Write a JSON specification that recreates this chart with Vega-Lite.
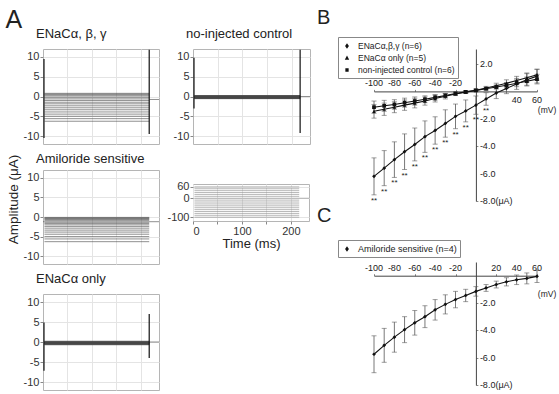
{
"$schema":"https://vega.github.io/schema/vega-lite/v6.json",
"padding":{"left":5,"top":7,"right":0,"bottom":0},
"background":"white",
"config":{
 "font":"Liberation Sans",
 "view":{"stroke":null},
 "title":{"fontWeight":"normal","fontSize":13,"color":"#222"},
 "axis":{"labelColor":"#333","labelFontSize":11,"tickColor":"#888","domainColor":"#444","gridColor":"#e4e4e4","titleFontWeight":"normal","titleColor":"#222","labelFont":"Liberation Sans"},
 "text":{"font":"Liberation Sans","color":"#222"},
 "legend":{"labelFont":"Liberation Sans"}
},
"datasets":{
 "traces":[
  {"p":"a1","k":"s","t0":3,"t1":217,"y0":-6.25},{"p":"a1","k":"s","t0":3,"t1":217,"y0":-5.6},{"p":"a1","k":"s","t0":3,"t1":217,"y0":-5.0},{"p":"a1","k":"s","t0":3,"t1":217,"y0":-4.45},{"p":"a1","k":"s","t0":3,"t1":217,"y0":-3.9},{"p":"a1","k":"s","t0":3,"t1":217,"y0":-3.35},{"p":"a1","k":"s","t0":3,"t1":217,"y0":-2.85},{"p":"a1","k":"s","t0":3,"t1":217,"y0":-2.35},{"p":"a1","k":"s","t0":3,"t1":217,"y0":-1.85},{"p":"a1","k":"s","t0":3,"t1":217,"y0":-1.45},{"p":"a1","k":"s","t0":3,"t1":217,"y0":-1.0},{"p":"a1","k":"s","t0":3,"t1":217,"y0":-0.6},{"p":"a1","k":"s","t0":3,"t1":217,"y0":-0.2},{"p":"a1","k":"s","t0":3,"t1":217,"y0":0.15},{"p":"a1","k":"s","t0":3,"t1":217,"y0":0.4},{"p":"a1","k":"s","t0":3,"t1":217,"y0":0.6},{"p":"a1","k":"s","t0":3,"t1":217,"y0":0.8},
  {"p":"a1","k":"s","t0":217,"t1":237,"y0":-0.75},
  {"p":"a1","k":"k","t0":2,"y0":-10.5,"y1":9.5},{"p":"a1","k":"k","t0":217,"y0":-9.5,"y1":11.8},
  {"p":"a2","k":"s","t0":3,"t1":217,"y0":-0.55},{"p":"a2","k":"s","t0":3,"t1":217,"y0":-0.5},{"p":"a2","k":"s","t0":3,"t1":217,"y0":-0.45},{"p":"a2","k":"s","t0":3,"t1":217,"y0":-0.4},{"p":"a2","k":"s","t0":3,"t1":217,"y0":-0.35},{"p":"a2","k":"s","t0":3,"t1":217,"y0":-0.3},{"p":"a2","k":"s","t0":3,"t1":217,"y0":-0.25},{"p":"a2","k":"s","t0":3,"t1":217,"y0":-0.2},{"p":"a2","k":"s","t0":3,"t1":217,"y0":-0.15},{"p":"a2","k":"s","t0":3,"t1":217,"y0":-0.1},{"p":"a2","k":"s","t0":3,"t1":217,"y0":-0.05},{"p":"a2","k":"s","t0":3,"t1":217,"y0":0},{"p":"a2","k":"s","t0":3,"t1":217,"y0":0.05},{"p":"a2","k":"s","t0":3,"t1":217,"y0":0.1},{"p":"a2","k":"s","t0":3,"t1":217,"y0":0.15},{"p":"a2","k":"s","t0":3,"t1":217,"y0":0.2},{"p":"a2","k":"s","t0":3,"t1":217,"y0":0.25},
  {"p":"a2","k":"s","t0":217,"t1":237,"y0":0},
  {"p":"a2","k":"k","t0":2,"y0":-3,"y1":9.8},{"p":"a2","k":"k","t0":217,"y0":-9.2,"y1":11.8},
  {"p":"a3","k":"s","t0":3,"t1":217,"y0":-6.3},{"p":"a3","k":"s","t0":3,"t1":217,"y0":-5.6},{"p":"a3","k":"s","t0":3,"t1":217,"y0":-5.0},{"p":"a3","k":"s","t0":3,"t1":217,"y0":-4.4},{"p":"a3","k":"s","t0":3,"t1":217,"y0":-3.85},{"p":"a3","k":"s","t0":3,"t1":217,"y0":-3.35},{"p":"a3","k":"s","t0":3,"t1":217,"y0":-2.85},{"p":"a3","k":"s","t0":3,"t1":217,"y0":-2.4},{"p":"a3","k":"s","t0":3,"t1":217,"y0":-2.0},{"p":"a3","k":"s","t0":3,"t1":217,"y0":-1.65},{"p":"a3","k":"s","t0":3,"t1":217,"y0":-1.35},{"p":"a3","k":"s","t0":3,"t1":217,"y0":-1.05},{"p":"a3","k":"s","t0":3,"t1":217,"y0":-0.8},{"p":"a3","k":"s","t0":3,"t1":217,"y0":-0.6},{"p":"a3","k":"s","t0":3,"t1":217,"y0":-0.4},{"p":"a3","k":"s","t0":3,"t1":217,"y0":-0.25},{"p":"a3","k":"s","t0":3,"t1":217,"y0":-0.1},
  {"p":"a3","k":"s","t0":0,"t1":3,"y0":-1.2},{"p":"a3","k":"s","t0":217,"t1":237,"y0":-1.2},
  {"p":"a5","k":"s","t0":3,"t1":217,"y0":-0.7},{"p":"a5","k":"s","t0":3,"t1":217,"y0":-0.6},{"p":"a5","k":"s","t0":3,"t1":217,"y0":-0.55},{"p":"a5","k":"s","t0":3,"t1":217,"y0":-0.5},{"p":"a5","k":"s","t0":3,"t1":217,"y0":-0.45},{"p":"a5","k":"s","t0":3,"t1":217,"y0":-0.4},{"p":"a5","k":"s","t0":3,"t1":217,"y0":-0.35},{"p":"a5","k":"s","t0":3,"t1":217,"y0":-0.3},{"p":"a5","k":"s","t0":3,"t1":217,"y0":-0.25},{"p":"a5","k":"s","t0":3,"t1":217,"y0":-0.2},{"p":"a5","k":"s","t0":3,"t1":217,"y0":-0.15},{"p":"a5","k":"s","t0":3,"t1":217,"y0":-0.1},{"p":"a5","k":"s","t0":3,"t1":217,"y0":-0.05},{"p":"a5","k":"s","t0":3,"t1":217,"y0":0},{"p":"a5","k":"s","t0":3,"t1":217,"y0":0.05},{"p":"a5","k":"s","t0":3,"t1":217,"y0":0.1},{"p":"a5","k":"s","t0":3,"t1":217,"y0":0.2},
  {"p":"a5","k":"s","t0":217,"t1":237,"y0":0},
  {"p":"a5","k":"k","t0":2,"y0":-7.2,"y1":4.9},{"p":"a5","k":"k","t0":217,"y0":-4,"y1":7},
  {"p":"a4","k":"s","t0":3,"t1":217,"y0":-100},{"p":"a4","k":"s","t0":3,"t1":217,"y0":-90},{"p":"a4","k":"s","t0":3,"t1":217,"y0":-80},{"p":"a4","k":"s","t0":3,"t1":217,"y0":-70},{"p":"a4","k":"s","t0":3,"t1":217,"y0":-60},{"p":"a4","k":"s","t0":3,"t1":217,"y0":-50},{"p":"a4","k":"s","t0":3,"t1":217,"y0":-40},{"p":"a4","k":"s","t0":3,"t1":217,"y0":-30},{"p":"a4","k":"s","t0":3,"t1":217,"y0":-20},{"p":"a4","k":"s","t0":3,"t1":217,"y0":-10},{"p":"a4","k":"s","t0":3,"t1":217,"y0":0},{"p":"a4","k":"s","t0":3,"t1":217,"y0":10},{"p":"a4","k":"s","t0":3,"t1":217,"y0":20},{"p":"a4","k":"s","t0":3,"t1":217,"y0":30},{"p":"a4","k":"s","t0":3,"t1":217,"y0":40},{"p":"a4","k":"s","t0":3,"t1":217,"y0":50},{"p":"a4","k":"s","t0":3,"t1":217,"y0":60},
  {"p":"a4","k":"s","t0":217,"t1":237,"y0":0}
 ],
 "ivB":[
  {"s":"ENaCα,β,γ (n=6)","v":-100,"m":-6.2,"e":1.35},{"s":"ENaCα,β,γ (n=6)","v":-90,"m":-5.6,"e":1.28},{"s":"ENaCα,β,γ (n=6)","v":-80,"m":-4.98,"e":1.3},{"s":"ENaCα,β,γ (n=6)","v":-70,"m":-4.4,"e":1.3},{"s":"ENaCα,β,γ (n=6)","v":-60,"m":-3.87,"e":1.2},{"s":"ENaCα,β,γ (n=6)","v":-50,"m":-3.3,"e":1.15},{"s":"ENaCα,β,γ (n=6)","v":-40,"m":-2.85,"e":1.0},{"s":"ENaCα,β,γ (n=6)","v":-30,"m":-2.34,"e":1.0},{"s":"ENaCα,β,γ (n=6)","v":-20,"m":-1.82,"e":0.9},{"s":"ENaCα,β,γ (n=6)","v":-10,"m":-1.42,"e":0.8},{"s":"ENaCα,β,γ (n=6)","v":0,"m":-1.0,"e":0.67},{"s":"ENaCα,β,γ (n=6)","v":10,"m":-0.55,"e":0.46},{"s":"ENaCα,β,γ (n=6)","v":20,"m":-0.12,"e":0.4},{"s":"ENaCα,β,γ (n=6)","v":30,"m":0.22,"e":0.38},{"s":"ENaCα,β,γ (n=6)","v":40,"m":0.55,"e":0.4},{"s":"ENaCα,β,γ (n=6)","v":50,"m":0.85,"e":0.45},{"s":"ENaCα,β,γ (n=6)","v":60,"m":1.12,"e":0.5},
  {"s":"ENaCα only (n=5)","v":-100,"m":-1.45,"e":0.5},{"s":"ENaCα only (n=5)","v":-90,"m":-1.3,"e":0.45},{"s":"ENaCα only (n=5)","v":-80,"m":-1.15,"e":0.4},{"s":"ENaCα only (n=5)","v":-70,"m":-1.0,"e":0.38},{"s":"ENaCα only (n=5)","v":-60,"m":-0.85,"e":0.35},{"s":"ENaCα only (n=5)","v":-50,"m":-0.7,"e":0.3},{"s":"ENaCα only (n=5)","v":-40,"m":-0.52,"e":0.25},{"s":"ENaCα only (n=5)","v":-30,"m":-0.35,"e":0.2},{"s":"ENaCα only (n=5)","v":-20,"m":-0.18,"e":0.12},{"s":"ENaCα only (n=5)","v":-10,"m":-0.05,"e":0.1},{"s":"ENaCα only (n=5)","v":0,"m":0.08,"e":0.1},{"s":"ENaCα only (n=5)","v":10,"m":0.25,"e":0.12},{"s":"ENaCα only (n=5)","v":20,"m":0.42,"e":0.18},{"s":"ENaCα only (n=5)","v":30,"m":0.6,"e":0.25},{"s":"ENaCα only (n=5)","v":40,"m":0.8,"e":0.3},{"s":"ENaCα only (n=5)","v":50,"m":1.0,"e":0.35},{"s":"ENaCα only (n=5)","v":60,"m":1.22,"e":0.4},
  {"s":"non-injected control (n=6)","v":-100,"m":-1.15,"e":0.45},{"s":"non-injected control (n=6)","v":-90,"m":-1.05,"e":0.4},{"s":"non-injected control (n=6)","v":-80,"m":-0.95,"e":0.35},{"s":"non-injected control (n=6)","v":-70,"m":-0.82,"e":0.33},{"s":"non-injected control (n=6)","v":-60,"m":-0.7,"e":0.3},{"s":"non-injected control (n=6)","v":-50,"m":-0.57,"e":0.25},{"s":"non-injected control (n=6)","v":-40,"m":-0.43,"e":0.2},{"s":"non-injected control (n=6)","v":-30,"m":-0.3,"e":0.15},{"s":"non-injected control (n=6)","v":-20,"m":-0.15,"e":0.1},{"s":"non-injected control (n=6)","v":-10,"m":-0.03,"e":0.08},{"s":"non-injected control (n=6)","v":0,"m":0.08,"e":0.08},{"s":"non-injected control (n=6)","v":10,"m":0.2,"e":0.1},{"s":"non-injected control (n=6)","v":20,"m":0.32,"e":0.15},{"s":"non-injected control (n=6)","v":30,"m":0.45,"e":0.2},{"s":"non-injected control (n=6)","v":40,"m":0.6,"e":0.25},{"s":"non-injected control (n=6)","v":50,"m":0.75,"e":0.3},{"s":"non-injected control (n=6)","v":60,"m":0.9,"e":0.35}
 ],
 "ivC":[
  {"s":"Amiloride sensitive (n=4)","v":-100,"m":-5.75,"e":1.35},{"s":"Amiloride sensitive (n=4)","v":-90,"m":-5.1,"e":1.24},{"s":"Amiloride sensitive (n=4)","v":-80,"m":-4.5,"e":1.1},{"s":"Amiloride sensitive (n=4)","v":-70,"m":-3.95,"e":0.95},{"s":"Amiloride sensitive (n=4)","v":-60,"m":-3.45,"e":0.9},{"s":"Amiloride sensitive (n=4)","v":-50,"m":-3.0,"e":0.8},{"s":"Amiloride sensitive (n=4)","v":-40,"m":-2.5,"e":0.75},{"s":"Amiloride sensitive (n=4)","v":-30,"m":-2.1,"e":0.7},{"s":"Amiloride sensitive (n=4)","v":-20,"m":-1.75,"e":0.6},{"s":"Amiloride sensitive (n=4)","v":-10,"m":-1.45,"e":0.45},{"s":"Amiloride sensitive (n=4)","v":0,"m":-1.15,"e":0.35},{"s":"Amiloride sensitive (n=4)","v":10,"m":-0.9,"e":0.25},{"s":"Amiloride sensitive (n=4)","v":20,"m":-0.65,"e":0.25},{"s":"Amiloride sensitive (n=4)","v":30,"m":-0.45,"e":0.3},{"s":"Amiloride sensitive (n=4)","v":40,"m":-0.3,"e":0.35},{"s":"Amiloride sensitive (n=4)","v":50,"m":-0.2,"e":0.4},{"s":"Amiloride sensitive (n=4)","v":60,"m":-0.05,"e":0.45}
 ]
},
"spacing":6,
"hconcat":[
 {"title":{"text":"A","fontSize":25,"anchor":"start","offset":-5},
  "spacing":6,
  "hconcat":[
   {"spacing":7,"vconcat":[
    {"width":116,"height":95,"view":{"stroke":"#b5b5b5"},
     "title":{"text":"ENaCα, β, γ","anchor":"start","frame":"group","dx":-7,"offset":8},
     "data":{"name":"traces"},"transform":[{"filter":"datum.p=='a1'"}],
     "encoding":{"x":{"field":"t0","type":"quantitative","scale":{"domain":[0,237],"nice":false,"zero":false},"axis":{"values":[50,100,150,200],"labels":false,"ticks":false,"domain":false,"grid":true,"title":null}},
      "y":{"field":"y0","type":"quantitative","scale":{"domain":[-12,12],"nice":false},"axis":{"values":[-10,-5,0,5,10],"labelExpr":"''+datum.value","domain":false,"grid":true,"tickSize":3,"labelPadding":1,"title":null}}},
     "layer":[
      {"transform":[{"filter":"datum.k=='s'"}],"mark":{"type":"rule","color":"#444","strokeWidth":0.6},"encoding":{"x2":{"field":"t1"}}},
      {"transform":[{"filter":"datum.k=='k'"}],"mark":{"type":"rule","color":"#111","strokeWidth":1.2},"encoding":{"y2":{"field":"y1"}}}
     ]},
    {"width":116,"height":94,"view":{"stroke":"#b5b5b5"},
     "title":{"text":"Amiloride sensitive","anchor":"start","frame":"group","dx":-7,"offset":-11.5},
     "data":{"name":"traces"},"transform":[{"filter":"datum.p=='a3'"}],
     "encoding":{"x":{"field":"t0","type":"quantitative","scale":{"domain":[0,237],"nice":false,"zero":false},"axis":{"values":[50,100,150,200],"labels":false,"ticks":false,"domain":false,"grid":true,"title":null}},
      "y":{"field":"y0","type":"quantitative","scale":{"domain":[-12,12],"nice":false},"axis":{"values":[-10,-5,0,5,10],"labelExpr":"''+datum.value","domain":false,"grid":true,"tickSize":3,"labelPadding":1,"title":"Amplitude (μA)","titleFontSize":13.5,"titlePadding":3,"titleY":29}}},
     "layer":[
      {"transform":[{"filter":"datum.k=='s'"}],"mark":{"type":"rule","color":"#444","strokeWidth":0.6},"encoding":{"x2":{"field":"t1"}}}
     ]},
    {"width":116,"height":96,"view":{"stroke":"#b5b5b5"},
     "title":{"text":"ENaCα only","anchor":"start","frame":"group","dx":-7,"offset":8},
     "data":{"name":"traces"},"transform":[{"filter":"datum.p=='a5'"}],
     "encoding":{"x":{"field":"t0","type":"quantitative","scale":{"domain":[0,237],"nice":false,"zero":false},"axis":{"values":[50,100,150,200],"labels":false,"ticks":false,"domain":false,"grid":true,"title":null}},
      "y":{"field":"y0","type":"quantitative","scale":{"domain":[-12,12],"nice":false},"axis":{"values":[-10,-5,0,5,10],"labelExpr":"''+datum.value","domain":false,"grid":true,"tickSize":3,"labelPadding":1,"title":null}}},
     "layer":[
      {"transform":[{"filter":"datum.k=='s'"}],"mark":{"type":"rule","color":"#444","strokeWidth":0.6},"encoding":{"x2":{"field":"t1"}}},
      {"transform":[{"filter":"datum.k=='k'"}],"mark":{"type":"rule","color":"#111","strokeWidth":1.2},"encoding":{"y2":{"field":"y1"}}}
     ]}
   ]},
   {"spacing":35,"vconcat":[
    {"width":117,"height":95,"view":{"stroke":"#b5b5b5"},
     "title":{"text":"no-injected control","anchor":"start","frame":"group","dx":-7,"offset":8},
     "data":{"name":"traces"},"transform":[{"filter":"datum.p=='a2'"}],
     "encoding":{"x":{"field":"t0","type":"quantitative","scale":{"domain":[0,237],"nice":false,"zero":false},"axis":{"values":[50,100,150,200],"labels":false,"ticks":false,"domain":false,"grid":true,"title":null}},
      "y":{"field":"y0","type":"quantitative","scale":{"domain":[-12,12],"nice":false},"axis":{"values":[-10,-5,0,5,10],"labelExpr":"''+datum.value","domain":false,"grid":true,"tickSize":3,"labelPadding":1,"title":null}}},
     "layer":[
      {"transform":[{"filter":"datum.k=='s'"}],"mark":{"type":"rule","color":"#444","strokeWidth":0.6},"encoding":{"x2":{"field":"t1"}}},
      {"transform":[{"filter":"datum.k=='k'"}],"mark":{"type":"rule","color":"#111","strokeWidth":1.2},"encoding":{"y2":{"field":"y1"}}}
     ]},
    {"width":116,"height":37,"view":{"stroke":"#b5b5b5"},
     "data":{"name":"traces"},"transform":[{"filter":"datum.p=='a4'"}],
     "encoding":{"x":{"field":"t0","type":"quantitative","scale":{"domain":[0,237],"nice":false,"zero":false},"axis":{"values":[0,50,100,150,200],"labelExpr":"datum.value%100==0?''+datum.value:''","domain":false,"grid":true,"tickSize":3,"labelPadding":1,"title":"Time (ms)","titleFontSize":13,"titlePadding":1}},
      "y":{"field":"y0","type":"quantitative","scale":{"domain":[-120,75],"nice":false,"zero":false},"axis":{"values":[-100,0,60],"labelExpr":"''+datum.value","domain":false,"grid":true,"tickSize":3,"labelPadding":1,"title":null}}},
     "layer":[
      {"mark":{"type":"rule","color":"#8a8a8a","strokeWidth":0.6},"encoding":{"x2":{"field":"t1"}}}
     ]}
   ]}
  ]},
 {"spacing":-1,"vconcat":[
  {"width":163,"height":152,
   "title":{"text":"B","anchor":"start","frame":"group","dx":-57,"fontSize":20,"offset":9},
   "layer":[
    {"data":{"name":"ivB"},
     "transform":[{"calculate":"datum.m-datum.e","as":"lo"},{"calculate":"datum.m+datum.e","as":"hi"}],
     "layer":[
      {"mark":{"type":"rule","color":"#555","strokeWidth":0.8},
       "encoding":{"x":{"field":"v","type":"quantitative","scale":{"domain":[-100,60],"nice":false,"zero":false},"axis":{"orient":"top","offset":-42.4,"values":[-100,-90,-80,-70,-60,-50,-40,-30,-20,-10,0,10,20,30,40,50,60],"labels":false,"grid":false,"tickSize":2,"title":null}},
        "y":{"field":"lo","type":"quantitative","scale":{"domain":[-8,3.1],"nice":false,"zero":false},"axis":{"orient":"right","offset":-61.1,"values":[-8,-6,-4,-2,2],"labels":false,"grid":false,"tickSize":2,"title":null}},
        "y2":{"field":"hi"}}},
      {"mark":{"type":"point","shape":"stroke","size":25,"color":"#555","strokeWidth":0.8},"encoding":{"x":{"field":"v","type":"quantitative"},"y":{"field":"lo","type":"quantitative"}}},
      {"mark":{"type":"point","shape":"stroke","size":25,"color":"#555","strokeWidth":0.8},"encoding":{"x":{"field":"v","type":"quantitative"},"y":{"field":"hi","type":"quantitative"}}},
      {"mark":{"type":"line","color":"#111","strokeWidth":1.1},"encoding":{"x":{"field":"v","type":"quantitative"},"y":{"field":"m","type":"quantitative"},"detail":{"field":"s"}}},
      {"mark":{"type":"point","filled":true,"color":"#111","size":14,"opacity":1},"encoding":{"x":{"field":"v","type":"quantitative"},"y":{"field":"m","type":"quantitative"},"shape":{"field":"s","type":"nominal","scale":{"domain":["ENaCα,β,γ (n=6)","ENaCα only (n=5)","non-injected control (n=6)"],"range":["diamond","triangle-up","square"]},"legend":null}}},
      {"mark":{"type":"point","filled":true,"color":"#111","opacity":0},"encoding":{"x":{"field":"v","type":"quantitative"},"y":{"field":"m","type":"quantitative"},"shape":{"field":"s","type":"nominal","scale":{"domain":["ENaCα,β,γ (n=6)","ENaCα only (n=5)","non-injected control (n=6)"],"range":["M-1,0L1,0M0,-0.5L0.35,0L0,0.5L-0.35,0Z","M-1,0L1,0M0,-0.45L0.4,0.3L-0.4,0.3Z","M-1,0L1,0M-0.3,-0.3L0.3,-0.3L0.3,0.3L-0.3,0.3Z"]},"legend":{"orient":"none","legendX":-36,"legendY":-12,"title":null,"strokeColor":"#888","fillColor":"white","padding":3,"labelFontSize":8.5,"labelColor":"#222","symbolSize":120,"symbolStrokeColor":"#111","symbolFillColor":"#111","symbolOpacity":1,"symbolStrokeWidth":1,"rowPadding":1,"labelOffset":5,"encode":{"symbols":{"update":{"opacity":{"value":1},"stroke":{"value":"#111"},"strokeWidth":{"value":1}}}}}}}},
      {"transform":[{"filter":"datum.v<=10&&datum.s=='ENaCα,β,γ (n=6)'"}],"mark":{"type":"text","text":"**","fontSize":8,"baseline":"top","dy":2},"encoding":{"x":{"field":"v","type":"quantitative"},"y":{"field":"lo","type":"quantitative"}}}
     ],
     "resolve":{"scale":{"shape":"independent"}}},
    {"data":{"values":[{"v":-100,"t":"-100"},{"v":-80,"t":"-80"},{"v":-60,"t":"-60"},{"v":-40,"t":"-40"},{"v":-20,"t":"-20"}]},"mark":{"type":"text","fontSize":9,"baseline":"bottom","dy":-3},"encoding":{"x":{"field":"v","type":"quantitative"},"y":{"datum":0,"type":"quantitative"},"text":{"field":"t"}}},
    {"data":{"values":[{"v":40,"t":"40"},{"v":60,"t":"60"}]},"mark":{"type":"text","fontSize":9,"baseline":"top","dy":5},"encoding":{"x":{"field":"v","type":"quantitative"},"y":{"datum":0,"type":"quantitative"},"text":{"field":"t"}}},
    {"data":{"values":[{"u":2,"t":"2.0"},{"u":-2,"t":"-2.0"},{"u":-4,"t":"-4.0"},{"u":-6,"t":"-6.0"},{"u":-8,"t":"-8.0(μA)"}]},"mark":{"type":"text","fontSize":9,"align":"left","baseline":"middle","dx":4},"encoding":{"x":{"datum":0,"type":"quantitative"},"y":{"field":"u","type":"quantitative"},"text":{"field":"t"}}},
    {"data":{"values":[{"t":"(mV)"}]},"mark":{"type":"text","fontSize":8.5,"baseline":"top","dy":15,"dx":10},"encoding":{"x":{"datum":60,"type":"quantitative"},"y":{"datum":0,"type":"quantitative"},"text":{"field":"t"}}}
   ]},
  {"width":163,"height":123,
   "title":{"text":"C","anchor":"start","frame":"group","dx":-57,"fontSize":20,"offset":14},
   "layer":[
    {"data":{"name":"ivC"},
     "transform":[{"calculate":"datum.m-datum.e","as":"lo"},{"calculate":"datum.m+datum.e","as":"hi"}],
     "layer":[
      {"mark":{"type":"rule","color":"#555","strokeWidth":0.8},
       "encoding":{"x":{"field":"v","type":"quantitative","scale":{"domain":[-100,60],"nice":false,"zero":false},"axis":{"orient":"top","offset":-13.7,"values":[-100,-90,-80,-70,-60,-50,-40,-30,-20,-10,0,10,20,30,40,50,60],"labels":false,"grid":false,"tickSize":2,"title":null}},
        "y":{"field":"lo","type":"quantitative","scale":{"domain":[-8,1],"nice":false,"zero":false},"axis":{"orient":"right","offset":-61.1,"values":[-8,-6,-4,-2],"labels":false,"grid":false,"tickSize":2,"title":null}},
        "y2":{"field":"hi"}}},
      {"mark":{"type":"point","shape":"stroke","size":25,"color":"#555","strokeWidth":0.8},"encoding":{"x":{"field":"v","type":"quantitative"},"y":{"field":"lo","type":"quantitative"}}},
      {"mark":{"type":"point","shape":"stroke","size":25,"color":"#555","strokeWidth":0.8},"encoding":{"x":{"field":"v","type":"quantitative"},"y":{"field":"hi","type":"quantitative"}}},
      {"mark":{"type":"line","color":"#111","strokeWidth":1.1},"encoding":{"x":{"field":"v","type":"quantitative"},"y":{"field":"m","type":"quantitative"}}},
      {"mark":{"type":"point","filled":true,"color":"#111","size":14,"opacity":1},"encoding":{"x":{"field":"v","type":"quantitative"},"y":{"field":"m","type":"quantitative"},"shape":{"field":"s","type":"nominal","scale":{"domain":["Amiloride sensitive (n=4)"],"range":["diamond"]},"legend":null}}},
      {"mark":{"type":"point","filled":true,"color":"#111","opacity":0},"encoding":{"x":{"field":"v","type":"quantitative"},"y":{"field":"m","type":"quantitative"},"shape":{"field":"s","type":"nominal","scale":{"domain":["Amiloride sensitive (n=4)"],"range":["M-1,0L1,0M0,-0.5L0.35,0L0,0.5L-0.35,0Z"]},"legend":{"orient":"none","legendX":-36,"legendY":-22,"title":null,"strokeColor":"#888","fillColor":"white","padding":3,"labelFontSize":9,"labelColor":"#222","symbolSize":120,"symbolStrokeColor":"#111","symbolFillColor":"#111","symbolOpacity":1,"symbolStrokeWidth":1,"rowPadding":1,"labelOffset":5,"encode":{"symbols":{"update":{"opacity":{"value":1},"stroke":{"value":"#111"},"strokeWidth":{"value":1}}}}}}}}
     ],
     "resolve":{"scale":{"shape":"independent"}}},
    {"data":{"values":[{"v":-100,"t":"-100"},{"v":-80,"t":"-80"},{"v":-60,"t":"-60"},{"v":-40,"t":"-40"},{"v":-20,"t":"-20"},{"v":20,"t":"20"},{"v":40,"t":"40"},{"v":60,"t":"60"}]},"mark":{"type":"text","fontSize":9,"baseline":"bottom","dy":-3},"encoding":{"x":{"field":"v","type":"quantitative"},"y":{"datum":0,"type":"quantitative"},"text":{"field":"t"}}},
    {"data":{"values":[{"u":-2,"t":"-2.0"},{"u":-4,"t":"-4.0"},{"u":-6,"t":"-6.0"},{"u":-8,"t":"-8.0(μA)"}]},"mark":{"type":"text","fontSize":9,"align":"left","baseline":"middle","dx":4},"encoding":{"x":{"datum":0,"type":"quantitative"},"y":{"field":"u","type":"quantitative"},"text":{"field":"t"}}},
    {"data":{"values":[{"t":"(mV)"}]},"mark":{"type":"text","fontSize":8.5,"baseline":"top","dy":14,"dx":10},"encoding":{"x":{"datum":60,"type":"quantitative"},"y":{"datum":0,"type":"quantitative"},"text":{"field":"t"}}}
   ]}
 ]}
]
}
